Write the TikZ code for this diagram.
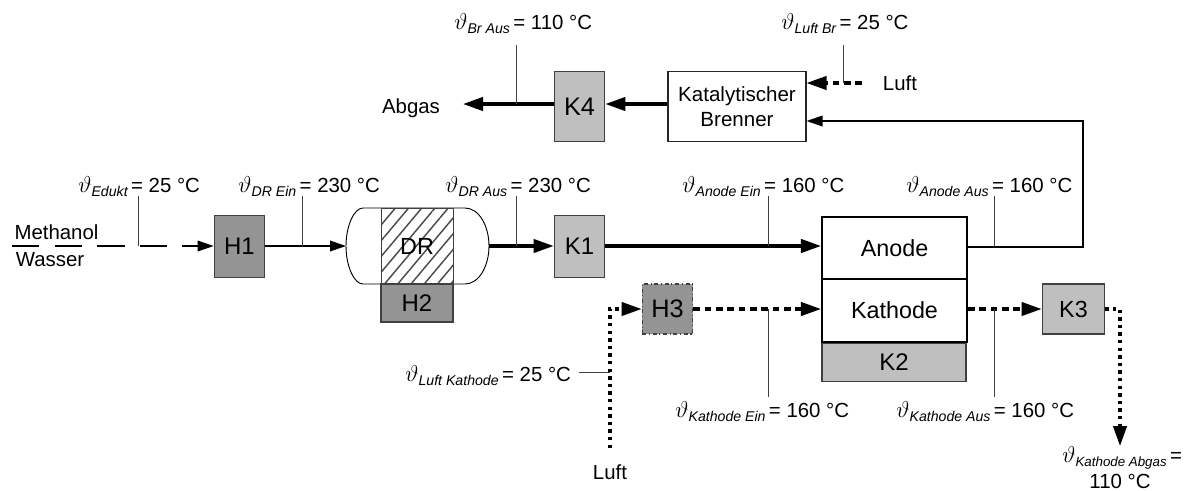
\documentclass[tikz,border=0pt]{standalone}
\usepackage{fontspec}
\setmainfont{Liberation Sans}
\usetikzlibrary{arrows.meta,patterns.meta}
\tikzset{
  x=0.75pt,y=-0.75pt,
  txt/.style={inner sep=0pt,font=\fontsize{15.3}{13.5}\selectfont,text=black,align=center},
  box/.style={draw=black!75,line width=0.8pt,inner sep=0pt,font=\fontsize{18}{20}\selectfont},
  hot/.style={box,fill=black!42},
  cool/.style={box,fill=black!25},
  cell/.style={draw=black,line width=1.3pt,fill=white,inner sep=0pt,font=\fontsize{17.5}{20}\selectfont},
  tap/.style={draw=black!75,line width=0.7pt},
  tipS/.style={-{Triangle[length=12pt,width=8pt]}},
  tipL/.style={-{Triangle[length=15pt,width=10pt]}},
  flow/.style={draw=black,line width=1pt,tipS},
  thick flow/.style={draw=black,line width=2.3pt,tipL},
  dashflow/.style={draw=black,line width=2.3pt,dash pattern=on 5pt off 3.5pt,tipL},
  dotflow/.style={draw=black,line width=2.3pt,dash pattern=on 2.6pt off 3.1pt,tipL},
  feed/.style={draw=black,line width=0.9pt,dash pattern=on 20.6pt off 11.3pt,tipS},
}
\newcommand{\lab}[2]{{\fontsize{17.5}{13.5}\selectfont$\vartheta$}\raisebox{-0.45ex}{\fontsize{10.6}{12}\selectfont\itshape #1}\,= #2~°C}
\begin{document}
\begin{tikzpicture}
\useasboundingbox (0,0) rectangle (1184,490);
% vessel
\draw[line width=0.7pt,fill=white] (363,208) -- (465,208) .. controls (479,208) and (489,226) .. (489,246) .. controls (489,266) and (479,284) .. (465,284) -- (363,284) .. controls (354,284) and (346,266) .. (346,246) .. controls (346,226) and (354,208) .. (363,208) -- cycle;
\node[draw=black!75,line width=0.7pt,pattern={Lines[angle=50,distance=7.6pt,line width=1.1pt]},pattern color=black!70,minimum width=54pt,minimum height=57pt,inner sep=0pt,font=\fontsize{17.5}{18}\selectfont] (DR) at (417,246) {DR};
\node[hot,minimum width=54pt,minimum height=28.5pt] (H2) at (417,303) {H2};
\node[hot,minimum width=38pt,minimum height=47pt] (H1) at (239.5,246.5) {H1};
\node[cool,minimum width=38pt,minimum height=47pt] (K1) at (579.5,246.5) {K1};
\node[cell,minimum width=109pt,minimum height=47pt] (An) at (894.5,248) {Anode};
\node[cell,minimum width=109pt,minimum height=47pt] (Ka) at (894.5,310.5) {Kathode};
\node[cool,minimum width=108pt,minimum height=28pt] (K2) at (894,362.5) {K2};
\node[cool,minimum width=47pt,minimum height=37.5pt,font=\fontsize{17.5}{18}\selectfont] (K3) at (1073.5,309) {K3};
\node[hot,dash dot,minimum width=38pt,minimum height=37.5pt,font=\fontsize{19}{20}\selectfont] (H3) at (667.5,309) {H3};
\node[cool,minimum width=38pt,minimum height=52pt,font=\fontsize{19}{20}\selectfont] (K4) at (579.5,106.5) {K4};
\node[draw=black!85,line width=0.8pt,fill=white,minimum width=103.5pt,minimum height=52pt,inner sep=0pt,align=center,font=\fontsize{15.4}{18.5}\selectfont] (Br) at (737,106.5) {Katalytischer\\Brenner};
% free ends
\coordinate (feedstart) at (12,246);
\coordinate (vesselL) at (346,246);
\coordinate (vesselR) at (489,246);
\coordinate (abgasend) at (463,104);
\coordinate (thickmid) at (600,104);
\coordinate (luftbr) at (862,83);
\coordinate (anodecorner) at (1083,247);
\coordinate (brcorner) at (1083,121);
\coordinate (luftka) at (610,448);
\coordinate (h3corner) at (610,309);
\coordinate (k3corner) at (1120,309);
\coordinate (k3end) at (1120,446);
% flows
\draw[feed] (feedstart) -- (feedstart -| H1.west);
\draw[flow] (H1.east |- vesselL) -- (vesselL);
\draw[thick flow] (vesselR) -- (vesselR -| K1.west);
\draw[thick flow] (vesselR -| K1.east) -- (vesselR -| An.west);
\draw[thick flow] (Br.west |- thickmid) -- (K4.east |- thickmid);
\draw[thick flow] (K4.west |- thickmid) -- (abgasend);
\draw[dashflow] (luftbr) -- (luftbr -| Br.east);
\draw[flow] (An.east |- anodecorner) -- (anodecorner) -- (brcorner) -- (brcorner -| Br.east);
\draw[dotflow] (luftka) -- (h3corner) -- (H3.west);
\draw[dashflow] (H3.east) -- (H3.east -| Ka.west);
\draw[dashflow] (K3.west -| Ka.east) -- (K3.west);
\draw[dotflow] (K3.east) -- (k3corner) -- (k3end);
% tap lines
\draw[tap] (138,196) -- (138,246);
\draw[tap] (302,196) -- (302,246);
\draw[tap] (516,196) -- (516,246);
\draw[tap] (768,196) -- (768,246);
\draw[tap] (994,196) -- (994,247);
\draw[tap] (516,45) -- (516,104);
\draw[tap] (843,45) -- (843,83);
\draw[tap] (579,372) -- (610,372);
\draw[tap] (768,309) -- (768,397);
\draw[tap] (994,309) -- (994,397);
% labels
\node[txt,anchor=base west] (l1) at (78,192) {\lab{Edukt}{25}};
\node[txt,anchor=base west] (l2) at (238,192) {\lab{DR Ein}{230}};
\node[txt,anchor=base west] (l3) at (445,192) {\lab{DR Aus}{230}};
\node[txt,anchor=base west] (l4) at (682,192) {\lab{Anode Ein}{160}};
\node[txt,anchor=base west] (l5) at (906,192) {\lab{Anode Aus}{160}};
\node[txt,anchor=base west] (l6) at (454,29) {\lab{Br Aus}{110}};
\node[txt,anchor=base west] (l7) at (781,29) {\lab{Luft Br}{25}};
\node[txt,anchor=base west] (l8) at (405,381) {\lab{Luft Kathode}{25}};
\node[txt,anchor=base west] (l9) at (675,417) {\lab{Kathode Ein}{160}};
\node[txt,anchor=base west] (l10) at (896,417) {\lab{Kathode Aus}{160}};
\node[txt,anchor=base west] (l11) at (1062,462) {{\fontsize{17.5}{13.5}\selectfont$\vartheta$}\raisebox{-0.45ex}{\fontsize{10}{12}\selectfont\itshape Kathode Abgas}\,=};
\node[txt,anchor=base] (l12) at (1120,488) {110~°C};
\node[txt] (m) at (56.5,232) {Methanol};
\node[txt] (w) at (50,260) {Wasser};
\node[txt] (ab) at (411,108) {Abgas};
\node[txt] (lb) at (900,83) {Luft};
\node[txt] (lk) at (610,472) {Luft};
\end{tikzpicture}
\end{document}
